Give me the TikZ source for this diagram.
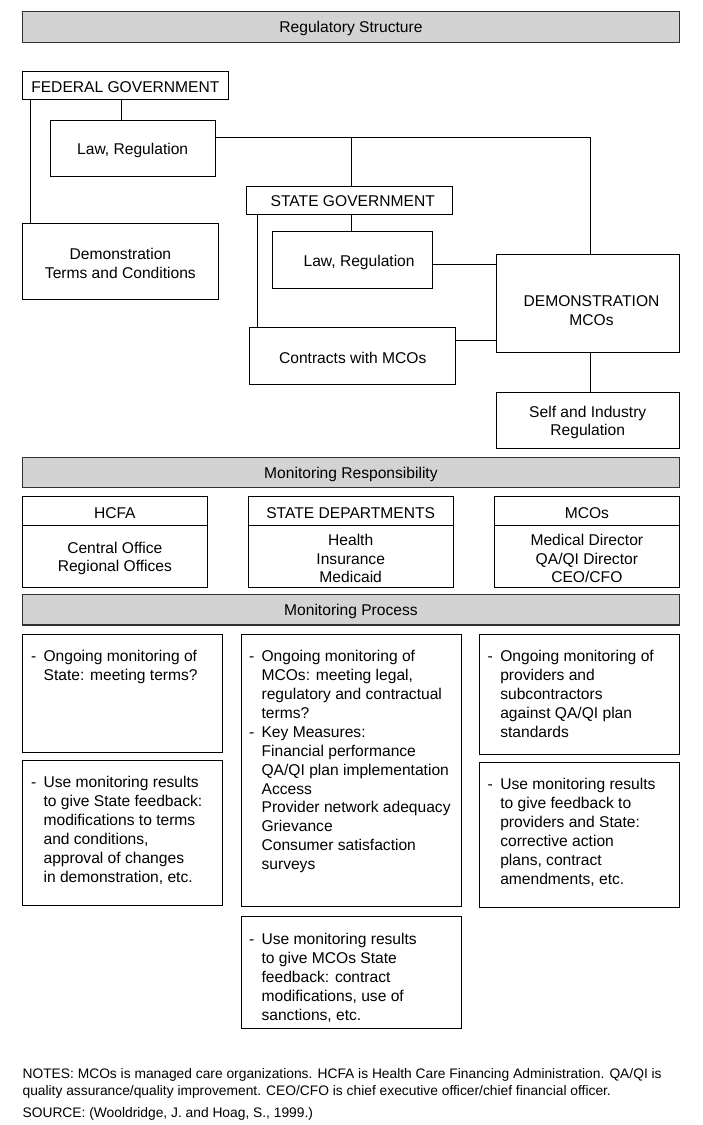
\documentclass[tikz,border=0pt]{standalone}
\usepackage{fontspec}
\setmainfont{Liberation Sans}
\usetikzlibrary{calc}
\definecolor{barfill}{RGB}{211,211,211}
\definecolor{barline}{RGB}{50,50,50}
\newcommand\mainsz{\fontsize{15.6}{18.9}\selectfont}
\newcommand\notesz{\fontsize{13.8}{17}\selectfont}
\newcommand\mkbox[7][]{\node[box,minimum width={#5-#3},minimum height={#6-#4},#1,label={[lbl,yshift=-2pt]center:#7}] (#2) at ({(#3+#5)/2},{(#4+#6)/2}) {};}
\newcommand\blt[1]{\begin{tabular}{@{}p{12.6pt}@{}l@{}}#1\end{tabular}}
\tikzset{
  box/.style={draw=black, line width=1pt, inner sep=0pt},
  bar/.style={fill=barfill, draw=barline, line width=1.3pt},
  txt/.style={inner sep=0pt, align=left, font=\mainsz, anchor=north west},
  lbl/.style={inner sep=0pt, align=center, font=\mainsz},
  note/.style={inner sep=0pt, anchor=base west, font=\notesz},
  conn/.style={draw=black, line width=1pt},
}
\begin{document}
\begin{tikzpicture}[x=1pt,y=-1pt]
\useasboundingbox[fill=white] (0,0) rectangle (702,1125);

% Regulatory structure
\mkbox[bar]{regbar}{22.4}{11.5}{679.5}{42.3}{Regulatory Structure}
\mkbox{fed}{22.4}{71}{228.3}{99.3}{FEDERAL GOVERNMENT}
\mkbox{lawa}{50.1}{120}{215.3}{176}{Law, Regulation}
\mkbox{dtc}{22.4}{223.7}{218.4}{299.3}{Demonstration\\Terms and Conditions}
\mkbox{state}{246.2}{186}{452.1}{214.3}{}
\node[lbl] (statet) at ([xshift=3.6pt,yshift=-1pt]state.center) {STATE GOVERNMENT};
\mkbox{lawb}{272.2}{231.7}{432}{288.3}{}
\node[lbl] (lawbt) at ([xshift=7pt,yshift=-2pt]lawb.center) {Law, Regulation};
\mkbox{contr}{249.8}{327.7}{455.7}{384.3}{Contracts with MCOs}
\mkbox{dmco}{496}{254.3}{679.5}{352.7}{}
\node[lbl] (dmcot) at ([xshift=3.8pt,yshift=-7pt]dmco.center) {DEMONSTRATION\\MCOs};
\mkbox{self}{496}{392.3}{679.5}{448.7}{Self and Industry\\Regulation}

% connectors
\coordinate (fedl) at ([xshift=8.9pt]fed.south west);
\draw[conn] (fedl) -- (fedl |- dtc.north);
\coordinate (feds) at ([xshift=-3.5pt]fed.south);
\draw[conn] (feds) -- (feds |- lawa.north);
\coordinate (lawout) at ([yshift=10.3pt]lawa.east);
\coordinate (dmcon) at ([xshift=3.2pt]dmco.north);
\draw[conn] (lawout) -| (dmcon);
\coordinate (stn) at ([xshift=2.2pt]state.north);
\draw[conn] (stn) -- (stn |- lawout);
\coordinate (sts) at ([xshift=2.2pt]state.south);
\draw[conn] (sts) -- (sts |- lawb.north);
\coordinate (stl) at ([xshift=12.1pt]state.south west);
\draw[conn] (stl) -- (stl |- contr.north);
\coordinate (lawbe) at ([yshift=-4.3pt]lawb.east);
\draw[conn] (lawbe) -- (lawbe -| dmco.west);
\coordinate (contre) at ([yshift=16pt]contr.east);
\draw[conn] (contre) -- (contre -| dmco.west);
\coordinate (dmcos) at ([xshift=3.2pt]dmco.south);
\draw[conn] (dmcos) -- (dmcos |- self.north);

% Monitoring responsibility
\mkbox[bar]{monresp}{22.4}{457.3}{679.5}{487.3}{Monitoring Responsibility}
\mkbox{hcfah}{22.4}{496.7}{207.3}{525.3}{HCFA}
\mkbox{hcfab}{22.4}{525.3}{207.3}{587.7}{Central Office\\Regional Offices}
\mkbox{sdh}{248.4}{496.7}{453}{525.3}{STATE DEPARTMENTS}
\mkbox{sdb}{248.4}{525.3}{453}{587.7}{Health\\Insurance\\Medicaid}
\mkbox{mcoh}{494.2}{496.7}{679.5}{525.3}{MCOs}
\mkbox{mcob}{494.2}{525.3}{679.5}{587.7}{Medical Director\\QA/QI Director\\CEO/CFO}

% Monitoring process
\mkbox[bar]{monproc}{22.4}{594.3}{679.5}{625}{Monitoring Process}
\mkbox{a1}{22.4}{634.3}{222.5}{752.3}{}
\mkbox{a2}{22.4}{760.3}{222.5}{905}{}
\mkbox{b1}{241.7}{634.3}{461}{906}{}
\mkbox{b2}{241.7}{916.7}{461}{1028.3}{}
\mkbox{c1}{479.4}{634.3}{679.5}{754.3}{}
\mkbox{c2}{479.4}{762.3}{679.5}{907}{}

\node[txt] (a1t) at ([xshift=8.9pt,yshift=-14.5pt]a1.north west) {\blt{- & Ongoing monitoring of\\ & State: meeting terms?}};
\node[txt] (a2t) at ([xshift=8.9pt,yshift=-14.6pt]a2.north west) {\blt{- & Use monitoring results\\ & to give State feedback:\\ & modifications to terms\\ & and conditions,\\ & approval of changes\\ & in demonstration, etc.}};
\node[txt] (b1t) at ([xshift=7.6pt,yshift=-14.5pt]b1.north west) {\blt{- & Ongoing monitoring of\\ & MCOs: meeting legal,\\ & regulatory and contractual\\ & terms?\\ - & Key Measures:\\ & Financial performance\\ & QA/QI plan implementation\\ & Access\\ & Provider network adequacy\\ & Grievance\\ & Consumer satisfaction\\ & surveys}};
\node[txt] (b2t) at ([xshift=7.6pt,yshift=-15pt]b2.north west) {\blt{- & Use monitoring results\\ & to give MCOs State\\ & feedback: contract\\ & modifications, use of\\ & sanctions, etc.}};
\node[txt] (c1t) at ([xshift=8.6pt,yshift=-14.5pt]c1.north west) {\blt{- & Ongoing monitoring of\\ & providers and\\ & subcontractors\\ & against QA/QI plan\\ & standards}};
\node[txt] (c2t) at ([xshift=8.6pt,yshift=-14.6pt]c2.north west) {\blt{- & Use monitoring results\\ & to give feedback to\\ & providers and State:\\ & corrective action\\ & plans, contract\\ & amendments, etc.}};

% Notes
\node[note] (notes1) at (22.4,1078.5) {NOTES: MCOs is managed care organizations. HCFA is Health Care Financing Administration. QA/QI is};
\node[note] (notes2) at (22.4,1095.5) {quality assurance/quality improvement. CEO/CFO is chief executive officer/chief financial officer.};
\node[note] (source) at (22.4,1117) {SOURCE: (Wooldridge, J. and Hoag, S., 1999.)};
\end{tikzpicture}
\end{document}
